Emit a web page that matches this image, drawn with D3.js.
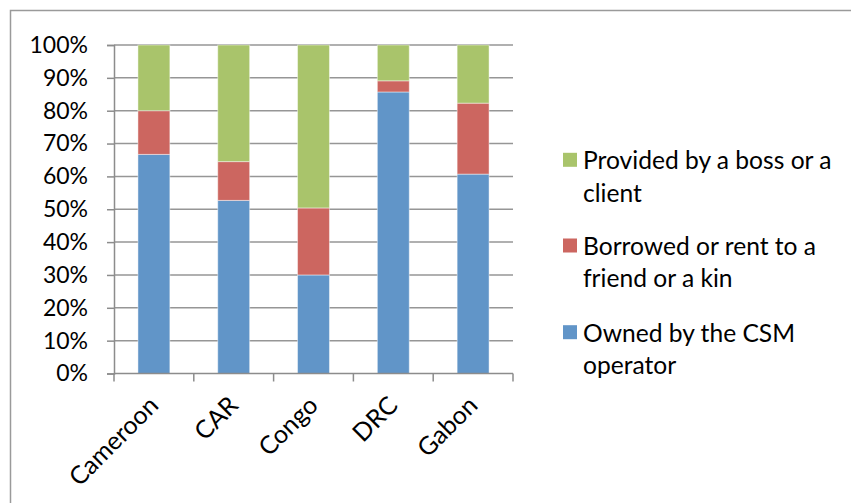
<!DOCTYPE html>
<html>
<head>
<meta charset="utf-8">
<script src="https://cdn.jsdelivr.net/npm/d3@7"></script>
<style>
  html, body { margin: 0; padding: 0; background: #fff; }
  svg { display: block; }
  text { font-family: Lato, "Open Sans", sans-serif; fill: #000; }
</style>
</head>
<body>
<svg id="chart" width="851" height="503"></svg>
<script>
// Source of the equipment used, share by country
const categories = ["Cameroon", "CAR", "Congo", "DRC", "Gabon"];
const owned     = [66.7, 52.7, 30.0, 85.7, 60.7];
const borrowed  = [13.3, 11.8, 20.4, 3.4, 21.6];
const provided  = [20.0, 35.5, 49.6, 10.9, 17.7];
const seriesNames = [
  "Owned by the CSM operator",
  "Borrowed or rent to a friend or a kin",
  "Provided by a boss or a client"
];
const legendLines = [
  ["Provided by a boss or a", "client"],
  ["Borrowed or rent to a", "friend or a kin"],
  ["Owned by the CSM", "operator"]
];
const yTicks = [0, 10, 20, 30, 40, 50, 60, 70, 80, 90, 100];
const colors = ["#6195C8", "#CC6660", "#A9C46B"];

const svg = d3.select("#chart");

// outer frame
svg.append("rect")
  .attr("x", 10.5).attr("y", 10.5)
  .attr("width", 900).attr("height", 600)
  .attr("fill", "none").attr("stroke", "#9a9a9a").attr("stroke-width", 1.5);

const plot = { left: 114, right: 513, top: 45, bottom: 373.5 };

const x = d3.scaleBand()
  .domain(categories)
  .range([plot.left, plot.right])
  .paddingInner(0.6).paddingOuter(0.3);

const y = d3.scaleLinear().domain([0, 100]).range([plot.bottom, plot.top]);

// horizontal gridlines
svg.append("g")
  .selectAll("line")
  .data(yTicks.filter(d => d > 0))
  .join("line")
  .attr("x1", plot.left).attr("x2", plot.right)
  .attr("y1", d => y(d)).attr("y2", d => y(d))
  .attr("stroke", "#969696").attr("stroke-width", 1.5);

// stacked bars
const rows = categories.map((c, i) => ({ cat: c, s0: owned[i], s1: borrowed[i], s2: provided[i] }));
const stack = d3.stack().keys(["s0", "s1", "s2"])(rows);

svg.append("g")
  .selectAll("g")
  .data(stack)
  .join("g")
  .attr("fill", (d, i) => colors[i])
  .selectAll("rect")
  .data(d => d)
  .join("rect")
  .attr("x", d => x(d.data.cat))
  .attr("width", x.bandwidth())
  .attr("y", d => y(d[1]))
  .attr("height", d => y(d[0]) - y(d[1]))
  .attr("stroke", "rgba(255,255,255,0.45)")
  .attr("stroke-width", 1);

// y axis
const yAxis = svg.append("g")
  .attr("transform", `translate(${plot.left},0)`)
  .call(d3.axisLeft(y).tickValues(yTicks).tickFormat(d => d + "%").tickSize(7).tickPadding(19));
yAxis.select(".domain").attr("stroke", "#8c8c8c").attr("stroke-width", 1.5);
yAxis.selectAll(".tick line").attr("stroke", "#8c8c8c").attr("stroke-width", 1.5);
yAxis.selectAll(".tick text")
  .style("font-family", "Lato, 'Open Sans', sans-serif")
  .attr("font-size", 23).attr("fill", "#000");

// x axis: category boundaries as tick marks
const bounds = d3.range(categories.length + 1).map(i => plot.left + i * (plot.right - plot.left) / categories.length);
const xg = svg.append("g");
xg.append("line")
  .attr("x1", plot.left).attr("x2", plot.right)
  .attr("y1", plot.bottom).attr("y2", plot.bottom)
  .attr("stroke", "#8c8c8c").attr("stroke-width", 1.5);
xg.selectAll("line.tk")
  .data(bounds)
  .join("line")
  .attr("class", "tk")
  .attr("x1", d => d).attr("x2", d => d)
  .attr("y1", plot.bottom).attr("y2", plot.bottom + 8)
  .attr("stroke", "#8c8c8c").attr("stroke-width", 1.5);

xg.selectAll("text")
  .data(categories)
  .join("text")
  .attr("transform", d => `translate(${x(d) + x.bandwidth() / 2 + 6},407) rotate(-45)`)
  .attr("text-anchor", "end")
  .attr("font-size", 25)
  .text(d => d);

// legend
const legend = svg.append("g");
const entryY = [169.3, 255, 341.7];
legendLines.forEach((lines, i) => {
  const g = legend.append("g");
  g.append("rect")
    .attr("x", 563).attr("y", entryY[i] - 16.5)
    .attr("width", 14).attr("height", 14)
    .attr("fill", colors[2 - i]);
  lines.forEach((t, j) => {
    g.append("text")
      .attr("x", 583).attr("y", entryY[i] + j * 32.4)
      .attr("font-size", 24.6)
      .text(t);
  });
});
</script>
</body>
</html>
